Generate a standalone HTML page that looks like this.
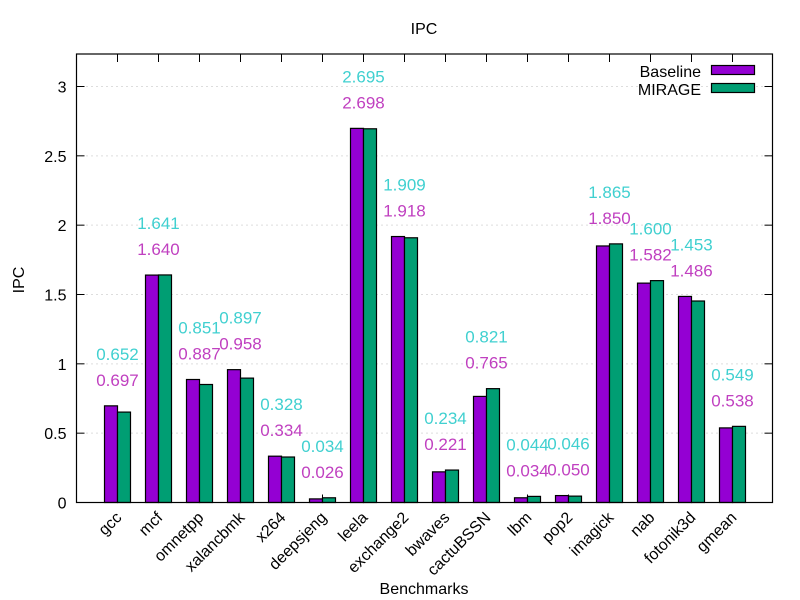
<!DOCTYPE html>
<html><head><meta charset="utf-8"><style>
body{margin:0;background:#fff;}
svg{display:block;font-family:"Liberation Sans",sans-serif;}
</style></head><body>
<svg id="chart" width="800" height="600"></svg>
<script>
const categories=["gcc","mcf","omnetpp","xalancbmk","x264","deepsjeng","leela","exchange2","bwaves","cactuBSSN","lbm","pop2","imagick","nab","fotonik3d","gmean"];
const baseline=[0.697,1.640,0.887,0.958,0.334,0.026,2.698,1.918,0.221,0.765,0.034,0.050,1.850,1.582,1.486,0.538];
const mirage=[0.652,1.641,0.851,0.897,0.328,0.034,2.695,1.909,0.234,0.821,0.044,0.046,1.865,1.600,1.453,0.549];
const yTicks=[0,0.5,1,1.5,2,2.5,3];
const yTickLabels=["0","0.5","1","1.5","2","2.5","3"];

const NS="http://www.w3.org/2000/svg";
const svg=document.getElementById('chart');
const L=76.5,R=772.5,T=54,B=502.5;
const yScale=v=>B-v*138.67;
const xCenter=i=>117.5+41*i;
function el(tag,attrs,parent){const e=document.createElementNS(NS,tag);for(const k in attrs)e.setAttribute(k,attrs[k]);(parent||svg).appendChild(e);return e;}

yTicks.forEach((v,i)=>{
  const y=yScale(v);
  if(v>0){const g=el('line',{x1:L,x2:R,y1:y,y2:y,stroke:'#bbb','stroke-dasharray':'1,4'});
  
  }
  const t=el('line',{x1:L,x2:L+8,y1:y,y2:y,stroke:'#000'});
  
  
  const t2=el('line',{x1:R-8,x2:R,y1:y,y2:y,stroke:'#000'});
  
  
  const tx=el('text',{x:L-10,y:y+6,'text-anchor':'end','font-size':'16',fill:'#000'});
  tx.textContent=yTickLabels[i];
  
  
});

categories.forEach((c,i)=>{
  const cx=xCenter(i);
  const tb=el('line',{x1:cx,x2:cx,y1:B,y2:B-8,stroke:'#000'});
  
  
  const tt=el('line',{x1:cx,x2:cx,y1:T,y2:T+8,stroke:'#000'});
  
  
  const yb=yScale(baseline[i]),ym=yScale(mirage[i]);
  const b=el('rect',{x:cx-13,y:yb,width:13,height:B-yb,fill:'#9400d3',stroke:'#000','stroke-width':1.2});
  
  
  const m=el('rect',{x:cx,y:ym,width:13,height:B-ym,fill:'#009e73',stroke:'#000','stroke-width':1.2});
  
  
  const top=Math.min(yb,ym);
  const lb=el('text',{x:cx,y:top-20,'text-anchor':'middle','font-size':'17',fill:'#c040c0'});
  lb.textContent=baseline[i].toFixed(3);
  
  
  const lm=el('text',{x:cx,y:top-46,'text-anchor':'middle','font-size':'17',fill:'#40d0d0'});
  lm.textContent=mirage[i].toFixed(3);
  
  
  const xl=el('text',{x:cx+5,y:B+16,'text-anchor':'end','font-size':'16',fill:'#000',transform:`rotate(-45 ${cx+5} ${B+16})`});
  xl.textContent=c;
  
  
});

const frame=el('rect',{x:L,y:T,width:R-L,height:B-T,fill:'none',stroke:'#000','stroke-width':1.2});


</script>
<div style="position:absolute;left:0;top:0;width:800px;height:600px;pointer-events:none">
<svg width="800" height="600" style="font-family:'Liberation Sans',sans-serif">
<text x="424" y="34" text-anchor="middle" font-size="16">IPC</text>
<text x="424" y="594" text-anchor="middle" font-size="16">Benchmarks</text>
<text x="24" y="280" text-anchor="middle" font-size="16" transform="rotate(-90 24 280)">IPC</text>
<g>
<text x="701" y="77" text-anchor="end" font-size="16">Baseline</text>
<rect x="711.5" y="65.5" width="43" height="9" fill="#9400d3" stroke="#000" stroke-width="1.2"/>
</g>
<g>
<text x="701" y="95" text-anchor="end" font-size="16">MIRAGE</text>
<rect x="711.5" y="83.5" width="43" height="9" fill="#009e73" stroke="#000" stroke-width="1.2"/>
</g>
</svg></div>
</body></html>
